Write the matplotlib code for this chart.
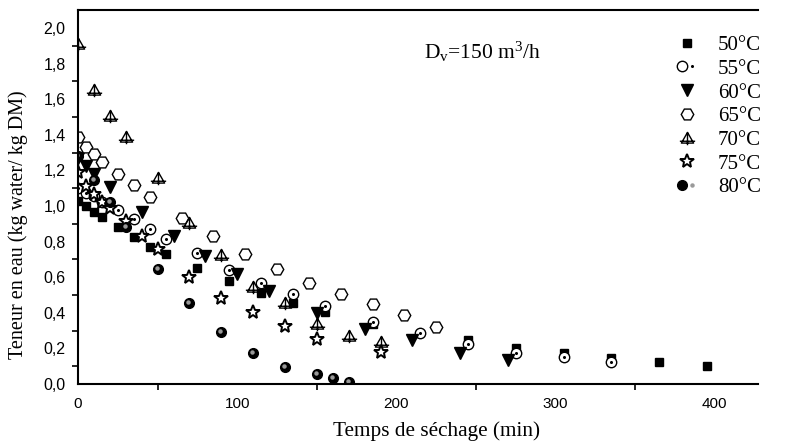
import matplotlib
matplotlib.use("Agg")
import matplotlib.pyplot as plt
from matplotlib.path import Path
from matplotlib.legend_handler import HandlerTuple
from matplotlib.transforms import offset_copy
from matplotlib.ticker import MultipleLocator, FixedLocator

# ========== [DATA] ==========
t50 = [0, 5, 10, 15, 25, 35, 45, 55, 75, 95, 115, 135, 155, 185, 245, 275, 305, 335, 365, 395]
m50 = [1.03, 1.00, 0.965, 0.94, 0.88, 0.824, 0.771, 0.73, 0.65, 0.579, 0.513, 0.457, 0.406,
       0.337, 0.247, 0.204, 0.172, 0.144, 0.122, 0.103]

t55 = [0, 5, 10, 15, 25, 35, 45, 55, 75, 95, 115, 135, 155, 185, 215, 245, 275, 305, 335]
m55 = [1.10, 1.071, 1.056, 1.024, 0.978, 0.925, 0.869, 0.815, 0.734, 0.64, 0.566, 0.504,
       0.438, 0.35, 0.285, 0.225, 0.176, 0.15, 0.125]

t60 = [0, 5, 10, 20, 40, 60, 80, 100, 120, 150, 180, 210, 240, 270]
m60 = [1.27, 1.226, 1.18, 1.108, 0.968, 0.83, 0.72, 0.62, 0.522, 0.40, 0.309, 0.247, 0.176, 0.135]

t65 = [0, 5, 10, 15, 25, 35, 45, 65, 85, 105, 125, 145, 165, 185, 205, 225]
m65 = [1.39, 1.33, 1.29, 1.25, 1.18, 1.12, 1.05, 0.934, 0.83, 0.73, 0.646, 0.57, 0.504,
       0.448, 0.388, 0.322]

t70 = [0, 10, 20, 30, 50, 70, 90, 110, 130, 150, 170, 190]
m70 = [1.91, 1.65, 1.505, 1.39, 1.155, 0.906, 0.725, 0.547, 0.457, 0.34, 0.271, 0.238]

t75 = [0, 5, 10, 15, 20, 30, 40, 50, 70, 90, 110, 130, 150, 190]
m75 = [1.19, 1.112, 1.07, 1.024, 0.987, 0.916, 0.831, 0.756, 0.603, 0.481, 0.403, 0.328,
       0.253, 0.181]

t80 = [0, 10, 20, 30, 50, 70, 90, 110, 130, 150, 160, 170]
m80 = [1.28, 1.146, 1.02, 0.884, 0.646, 0.453, 0.29, 0.172, 0.097, 0.054, 0.032, 0.01]

labels = ["50°C", "55°C", "60°C", "65°C", "70°C", "75°C", "80°C"]

# ========== [STYLE] ==========
plt.rcParams['font.family'] = ['Liberation Serif', 'DejaVu Serif']
plt.rcParams['mathtext.fontset'] = 'custom'
plt.rcParams['mathtext.rm'] = 'Liberation Serif'
plt.rcParams['mathtext.it'] = 'Liberation Serif:italic'

# triangle avec croix (70°C)
tri_cross = Path(
    [(-1, -0.75), (0, 1), (1, -0.75), (-1, -0.75),
     (0, 1), (0, -1.1),
     (-1.25, -0.45), (1.25, -0.45)],
    [Path.MOVETO, Path.LINETO, Path.LINETO, Path.CLOSEPOLY,
     Path.MOVETO, Path.LINETO,
     Path.MOVETO, Path.LINETO])

fig = plt.figure(figsize=(7.85, 4.41), dpi=100)
ax = fig.add_axes([0.0994, 0.129, 0.866, 0.848])

h50, = ax.plot(t50, m50, 's', color='black', ms=6, ls='none')
h55a, = ax.plot(t55, m55, 'o', mfc='white', mec='black', ms=7.5, mew=1.0, ls='none')
h55b, = ax.plot(t55, m55, 'o', color='black', ms=1.2, ls='none')
h60, = ax.plot(t60, m60, 'v', color='black', ms=8.5, ls='none')
h65, = ax.plot(t65, m65, 'H', mfc='white', mec='black', ms=9, mew=1.0, ls='none')
h70, = ax.plot(t70, m70, marker=tri_cross, mfc='none', mec='black', ms=11, mew=1.0, ls='none')
h75, = ax.plot(t75, m75, '*', mfc='white', mec='black', ms=10, mew=1.4, ls='none')
h80a, = ax.plot(t80, m80, 'o', color='black', ms=7, ls='none')
h80b, = ax.plot(t80, m80, 'o', color='#9a9a9a', ms=2.2, ls='none',
                transform=offset_copy(ax.transData, fig=fig, x=-1, y=1, units='dots'))

ax.set_xlim(0, 427)
ax.set_ylim(0, 2.1)

# ticks : labels sur les majeurs, traits sur les mineurs
ax.xaxis.set_major_locator(MultipleLocator(100))
ax.xaxis.set_minor_locator(FixedLocator([50, 150, 250, 350]))
ax.yaxis.set_major_locator(MultipleLocator(0.2))
ax.yaxis.set_minor_locator(FixedLocator([0.1, 0.3, 0.5, 0.7, 0.9, 1.1, 1.3, 1.5, 1.7, 1.9]))
ax.tick_params(which='major', length=0, pad=9, labelsize=11)
ax.tick_params(axis='y', which='major', labelsize=11.5)
ax.tick_params(which='minor', length=4, width=1.2, direction='out')
ax.set_yticklabels([f"{v:.1f}".replace('.', ',') for v in ax.get_yticks()])
for lab in ax.get_xticklabels() + ax.get_yticklabels():
    lab.set_family('Liberation Sans')

for s in ['left', 'bottom', 'top']:
    ax.spines[s].set_linewidth(1.5)
ax.spines['right'].set_visible(False)

ax.set_xlabel("Temps de séchage (min)", fontsize=15.3)
ax.xaxis.set_label_coords(0.527, -0.10)
ax.set_ylabel("Teneur en eau (kg water/ kg DM)", fontsize=14.5)
ax.yaxis.set_label_coords(-0.074, 0.425)

fig.text(482 / 785, 1 - 52 / 441, r"D$_\mathrm{v}$=150 m$^\mathrm{3}$/h",
         fontsize=15.5, ha='center', va='center')

handles = [h50, (h55a, h55b), h60, h65, h70, h75, (h80a, h80b)]
ax.legend(handles, labels, loc='upper left', bbox_to_anchor=(666 / 785, 1 - 25 / 441),
          bbox_transform=fig.transFigure, frameon=False, fontsize=15,
          handlelength=1.0, handletextpad=1.0, borderpad=0, labelspacing=0.2,
          handler_map={tuple: HandlerTuple(ndivide=None)})

plt.savefig("out.png", dpi=100)
